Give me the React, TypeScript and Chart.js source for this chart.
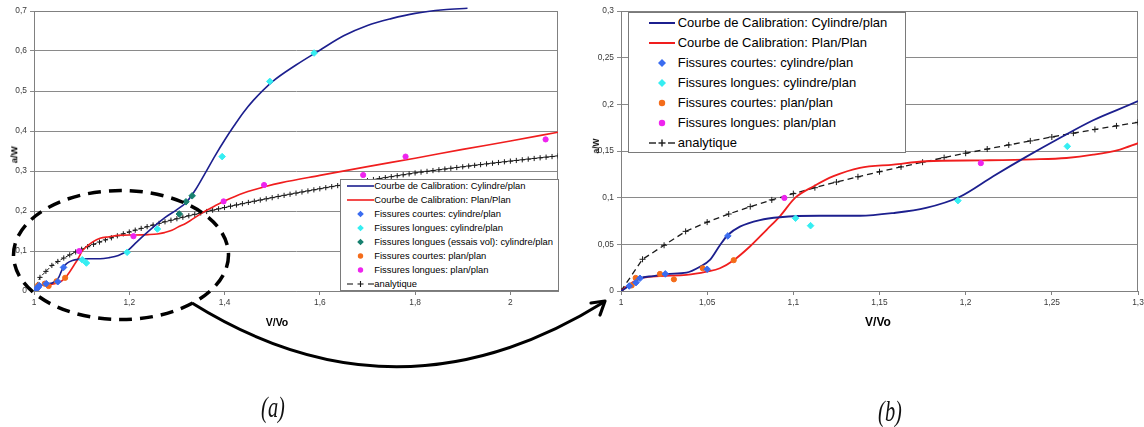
import React, { useEffect, useRef } from "react";
import { Chart, registerables } from "chart.js";

Chart.register(...registerables);

// ---------- Data (V/Vo, a/W) ----------
// Courbe de Calibration: Cylindre/plan
const calibCylV = [1.0, 1.0072, 1.011, 1.0187, 1.0265, 1.038, 1.0458, 1.0516, 1.0574, 1.062, 1.069, 1.0806, 1.0922, 1.115, 1.1386, 1.158, 1.177, 1.1966, 1.216, 1.2353, 1.2546, 1.274, 1.3, 1.32, 1.34, 1.36, 1.38, 1.4, 1.42, 1.44, 1.46, 1.5, 1.55, 1.6, 1.65, 1.7, 1.75, 1.8, 1.86, 1.91];
const calibCylA = [0.0, 0.0083, 0.0136, 0.016, 0.0183, 0.0197, 0.026, 0.0333, 0.049, 0.06, 0.069, 0.076, 0.079, 0.0806, 0.0806, 0.0835, 0.089, 0.101, 0.123, 0.144, 0.164, 0.183, 0.2035, 0.222, 0.255, 0.296, 0.338, 0.377, 0.413, 0.447, 0.476, 0.523, 0.565, 0.602, 0.638, 0.664, 0.681, 0.694, 0.703, 0.707];

// Courbe de Calibration: Plan/Plan
const calibPlanV = [1.0, 1.0035, 1.0072, 1.013, 1.0226, 1.038, 1.0497, 1.0574, 1.0654, 1.0748, 1.0845, 1.0922, 1.101, 1.1116, 1.1233, 1.1386, 1.158, 1.177, 1.21, 1.239, 1.2585, 1.274, 1.2895, 1.301, 1.32, 1.354, 1.38, 1.4, 1.44, 1.488, 1.52, 1.6, 1.7, 1.8, 1.9, 2.0, 2.1];
const calibPlanA = [0.0, 0.005, 0.01, 0.0143, 0.016, 0.0172, 0.0208, 0.0244, 0.033, 0.0477, 0.0656, 0.08, 0.0997, 0.112, 0.123, 0.132, 0.1355, 0.139, 0.14, 0.141, 0.1425, 0.146, 0.1516, 0.159, 0.17, 0.196, 0.213, 0.225, 0.245, 0.262, 0.271, 0.289, 0.311, 0.332, 0.354, 0.375, 0.397];

// Fissures courtes: cylindre/plan
const courtesCylV = [1.0048, 1.0087, 1.011, 1.0257, 1.05, 1.062];
const courtesCylA = [0.0054, 0.009, 0.0136, 0.0183, 0.0233, 0.059];
// Fissures longues: cylindre/plan
const longuesCylV = [1.1013, 1.11, 1.1955, 1.259, 1.395, 1.495, 1.588];
const longuesCylA = [0.078, 0.07, 0.0968, 0.155, 0.336, 0.524, 0.595];
// Fissures longues (essais vol): cylindre/plan
const volCylV = [1.305, 1.319, 1.332];
const volCylA = [0.1925, 0.223, 0.238];
// Fissures courtes: plan/plan
const courtesPlanV = [1.0062, 1.0085, 1.0226, 1.0307, 1.0474, 1.0654];
const courtesPlanA = [0.006, 0.014, 0.0183, 0.0125, 0.0244, 0.033];
// Fissures longues: plan/plan
const longuesPlanV = [1.0948, 1.2088, 1.398, 1.483, 1.691, 1.78, 2.074];
const longuesPlanA = [0.0997, 0.137, 0.224, 0.265, 0.29, 0.336, 0.379];

// analytique
const analytV = [1, 1.0125, 1.025, 1.0375, 1.05, 1.0625, 1.075, 1.0875, 1.1, 1.1125, 1.125, 1.1375, 1.15, 1.1625, 1.175, 1.1875, 1.2, 1.2125, 1.225, 1.2375, 1.25, 1.2625, 1.275, 1.2875, 1.3, 1.3125, 1.325, 1.3375, 1.35, 1.3625, 1.375, 1.3875, 1.4, 1.4125, 1.425, 1.4375, 1.45, 1.4625, 1.475, 1.4875, 1.5, 1.5125, 1.525, 1.5375, 1.55, 1.5625, 1.575, 1.5875, 1.6, 1.6125, 1.625, 1.6375, 1.65, 1.6625, 1.675, 1.6875, 1.7, 1.7125, 1.725, 1.7375, 1.75, 1.7625, 1.775, 1.7875, 1.8, 1.8125, 1.825, 1.8375, 1.85, 1.8625, 1.875, 1.8875, 1.9, 1.9125, 1.925, 1.9375, 1.95, 1.9625, 1.975, 1.9875, 2.0, 2.0125, 2.025, 2.0375, 2.05, 2.0625, 2.075, 2.0875, 2.1];
const analytA = [0, 0.034, 0.049, 0.0639, 0.0738, 0.0825, 0.0904, 0.0976, 0.1043, 0.1107, 0.1167, 0.1224, 0.1278, 0.133, 0.138, 0.1429, 0.1476, 0.1521, 0.1565, 0.1608, 0.165, 0.1691, 0.1731, 0.1769, 0.1807, 0.1845, 0.1881, 0.1917, 0.1952, 0.1987, 0.2021, 0.2054, 0.2087, 0.212, 0.2151, 0.2183, 0.2214, 0.2244, 0.2274, 0.2304, 0.2333, 0.2362, 0.2391, 0.2419, 0.2447, 0.2475, 0.2502, 0.2529, 0.2556, 0.2583, 0.2609, 0.2635, 0.266, 0.2686, 0.2711, 0.2736, 0.2761, 0.2786, 0.281, 0.2834, 0.2858, 0.2882, 0.2905, 0.2928, 0.2952, 0.2972, 0.2991, 0.3011, 0.3031, 0.3049, 0.3068, 0.3087, 0.3105, 0.3124, 0.3142, 0.3159, 0.3178, 0.3195, 0.3212, 0.323, 0.3247, 0.3263, 0.328, 0.3297, 0.3313, 0.333, 0.3346, 0.3361, 0.3377];

// axis ranges / ticks
const axisA = { xMin: 1, xMax: 2.1, xStep: 0.2, yMin: 0, yMax: 0.7, yStep: 0.1 };
const axisB = { xMin: 1, xMax: 1.3, xStep: 0.05, yMin: 0, yMax: 0.3, yStep: 0.05 };

// ---------- styling ----------
const NAVY = "#1c1f8e";
const RED = "#f01e1e";
const BLUE = "#3a6cf0";
const CYAN = "#35eef2";
const TEAL = "#17806f";
const ORANGE = "#f46c1a";
const MAGENTA = "#ee24ee";
const FONT = "'Liberation Sans', Arial, sans-serif";

const L_CYL = "Courbe de Calibration: Cylindre/plan";
const L_PLAN = "Courbe de Calibration: Plan/Plan";
const L_CC = "Fissures courtes: cylindre/plan";
const L_LC = "Fissures longues: cylindre/plan";
const L_VOL = "Fissures longues (essais vol): cylindre/plan";
const L_CP = "Fissures courtes: plan/plan";
const L_LP = "Fissures longues: plan/plan";
const L_AN = "analytique";

const toPts = (xs: number[], ys: number[]) => xs.map((x, i) => ({ x, y: ys[i] }));
const fmt = (v: number) => String(Math.round(v * 1000) / 1000).replace(".", ",");

const framePlugin = {
  id: "frame",
  beforeDatasetsDraw(chart: any) {
    const { ctx, chartArea: a } = chart;
    ctx.save();
    ctx.strokeStyle = "#808080";
    ctx.lineWidth = 1;
    ctx.beginPath();
    const l = Math.round(a.left) + 0.5;
    const t = Math.round(a.top) + 0.5;
    const r = Math.round(a.right) - 0.5;
    const b = Math.round(a.bottom) + 0.5;
    ctx.moveTo(l, t);
    ctx.lineTo(r, t);
    ctx.lineTo(r, b);
    ctx.stroke();
    ctx.restore();
  },
};

function markerSet(label: string, xs: number[], ys: number[], color: string, style: string, r: number) {
  return {
    label,
    data: toPts(xs, ys),
    showLine: false,
    pointStyle: style,
    pointRadius: r,
    pointBackgroundColor: color,
    pointBorderColor: color,
    pointBorderWidth: 1,
    order: 0,
  };
}

function buildDatasets(big: boolean) {
  const lw = big ? 1.8 : 1.6;
  const ds: any[] = [
    markerSet(L_CC, courtesCylV, courtesCylA, BLUE, "rectRot", 3.3),
    markerSet(L_LC, longuesCylV, longuesCylA, CYAN, "rectRot", 3.3),
  ];
  if (!big) ds.push(markerSet(L_VOL, volCylV, volCylA, TEAL, "rectRot", 3.3));
  ds.push(markerSet(L_CP, courtesPlanV, courtesPlanA, ORANGE, "circle", 2.6));
  ds.push(markerSet(L_LP, longuesPlanV, longuesPlanA, MAGENTA, "circle", 2.6));
  ds.push({
    label: L_CYL,
    data: toPts(calibCylV, calibCylA),
    showLine: true,
    borderColor: NAVY,
    borderWidth: lw,
    pointRadius: 0,
    cubicInterpolationMode: "monotone",
    clip: big ? 0 : { left: 0, top: 4, right: 0, bottom: 0 },
    order: 1,
  });
  ds.push({
    label: L_PLAN,
    data: toPts(calibPlanV, calibPlanA),
    showLine: true,
    borderColor: RED,
    borderWidth: lw,
    pointRadius: 0,
    cubicInterpolationMode: "monotone",
    order: 1,
  });
  ds.push({
    label: L_AN,
    data: toPts(analytV, analytA),
    showLine: true,
    borderColor: "#1a1a1a",
    borderWidth: big ? 1.3 : 1,
    borderDash: big ? [6, 4] : [4, 2],
    pointStyle: "cross",
    pointRadius: big ? 3 : 2.6,
    pointBorderColor: "#1a1a1a",
    pointBorderWidth: 1,
    pointBackgroundColor: "#1a1a1a",
    order: 2,
  });
  return ds;
}

function buildConfig(big: boolean, ax: typeof axisA, yWidth: number): any {
  const tickFont = { family: FONT, size: 8.4 };
  return {
    type: "scatter",
    data: { datasets: buildDatasets(big) },
    options: {
      animation: false,
      responsive: false,
      devicePixelRatio: 1,
      layout: { padding: { left: 0, top: 11, right: 22, bottom: 0 } },
      plugins: { legend: { display: false }, tooltip: { enabled: false } },
      scales: {
        x: {
          type: "linear",
          min: ax.xMin,
          max: ax.xMax,
          afterFit: (s: any) => {
            s.height = 49;
          },
          ticks: {
            stepSize: ax.xStep,
            includeBounds: false,
            autoSkip: false,
            maxRotation: 0,
            font: tickFont,
            color: "#3a3a3a",
            padding: 3,
            callback: (v: any) => fmt(Number(v)),
          },
          grid: { drawOnChartArea: false, color: "#808080", tickLength: 4 },
          border: { color: "#808080" },
        },
        y: {
          type: "linear",
          min: ax.yMin,
          max: ax.yMax,
          afterFit: (s: any) => {
            s.width = yWidth;
          },
          ticks: {
            stepSize: ax.yStep,
            includeBounds: false,
            font: tickFont,
            color: "#3a3a3a",
            padding: 3,
            callback: (v: any) => fmt(Number(v)),
          },
          grid: { color: "#8a8a8a", tickLength: 4 },
          border: { color: "#808080" },
        },
      },
    },
    plugins: [framePlugin],
  };
}

type Row = { label: string; kind: "line" | "diamond" | "circle" | "analytic"; color: string };

const rowsA: Row[] = [
  { label: L_CYL, kind: "line", color: NAVY },
  { label: L_PLAN, kind: "line", color: RED },
  { label: L_CC, kind: "diamond", color: BLUE },
  { label: L_LC, kind: "diamond", color: CYAN },
  { label: L_VOL, kind: "diamond", color: TEAL },
  { label: L_CP, kind: "circle", color: ORANGE },
  { label: L_LP, kind: "circle", color: MAGENTA },
  { label: L_AN, kind: "analytic", color: "#1a1a1a" },
];
const rowsB: Row[] = rowsA.filter((r) => r.label !== L_VOL);

function Sample({ row, w, h, big }: { row: Row; w: number; h: number; big: boolean }) {
  const cy = h / 2;
  const cx = w / 2;
  let content: any = null;
  if (row.kind === "line") {
    content = <line x1={0} y1={cy} x2={w} y2={cy} stroke={row.color} strokeWidth={big ? 2 : 1.6} />;
  } else if (row.kind === "diamond") {
    const r = big ? 4 : 3.3;
    content = (
      <polygon
        points={`${cx - r},${cy} ${cx},${cy - r} ${cx + r},${cy} ${cx},${cy + r}`}
        fill={row.color}
      />
    );
  } else if (row.kind === "circle") {
    content = <circle cx={cx} cy={cy} r={big ? 3.2 : 2.7} fill={row.color} />;
  } else {
    const d = big ? 7 : 6;
    const c = big ? 3.5 : 3;
    content = (
      <g stroke={row.color} strokeWidth={big ? 1.4 : 1.1}>
        <line x1={0} y1={cy} x2={d} y2={cy} />
        <line x1={w - d} y1={cy} x2={w} y2={cy} />
        <line x1={cx - c} y1={cy} x2={cx + c} y2={cy} />
        <line x1={cx} y1={cy - c} x2={cx} y2={cy + c} />
      </g>
    );
  }
  return (
    <svg width={w} height={h} style={{ position: "absolute", left: 0, top: 0, overflow: "visible" }}>
      {content}
    </svg>
  );
}

function Legend(props: {
  rows: Row[];
  left: number;
  top: number;
  width: number;
  height: number;
  rowH: number;
  padTop: number;
  sampleLeft: number;
  sampleW: number;
  textLeft: number;
  fontSize: number;
  big: boolean;
}) {
  const p = props;
  return (
    <div
      style={{
        position: "absolute",
        left: p.left,
        top: p.top,
        width: p.width,
        height: p.height,
        boxSizing: "border-box",
        border: "1px solid #7a7a7a",
        background: "#fff",
      }}
    >
      {p.rows.map((r, i) => (
        <div key={r.label} style={{ position: "absolute", left: 0, top: p.padTop + i * p.rowH, height: p.rowH, width: "100%" }}>
          <div style={{ position: "absolute", left: p.sampleLeft, top: 0, width: p.sampleW, height: p.rowH }}>
            <Sample row={r} w={p.sampleW} h={p.rowH} big={p.big} />
          </div>
          <span
            style={{
              position: "absolute",
              left: p.textLeft,
              top: 0,
              lineHeight: `${p.rowH}px`,
              fontSize: p.fontSize,
              fontFamily: FONT,
              color: "#000",
              whiteSpace: "nowrap",
            }}
          >
            {r.label}
          </span>
        </div>
      ))}
    </div>
  );
}

function Label(props: { text: string; cx: number; cy: number; size: number; rotate?: boolean }) {
  const w = 80;
  const lh = props.size * 1.2;
  return (
    <div
      style={{
        position: "absolute",
        left: props.cx - w / 2,
        top: props.cy - lh / 2,
        width: w,
        height: lh,
        lineHeight: `${lh}px`,
        textAlign: "center",
        fontFamily: FONT,
        fontWeight: "bold",
        fontSize: props.size,
        color: "#000",
        transform: props.rotate ? "rotate(-90deg)" : undefined,
        transformOrigin: "50% 50%",
      }}
    >
      {props.text}
    </div>
  );
}

function Caption(props: { text: string; cx: number; top: number }) {
  return (
    <div
      style={{
        position: "absolute",
        left: props.cx - 40,
        top: props.top,
        width: 80,
        textAlign: "center",
        fontFamily: "'Liberation Serif', 'DejaVu Serif', serif",
        fontStyle: "italic",
        fontSize: 30,
        lineHeight: "34px",
        color: "#111",
        transform: "scaleX(0.68)",
      }}
    >
      {props.text}
    </div>
  );
}

export default function App() {
  const refA = useRef<HTMLCanvasElement>(null);
  const refB = useRef<HTMLCanvasElement>(null);

  useEffect(() => {
    const a = new Chart(refA.current as HTMLCanvasElement, buildConfig(false, axisA, 34));
    const b = new Chart(refB.current as HTMLCanvasElement, buildConfig(true, axisB, 36));
    return () => {
      a.destroy();
      b.destroy();
    };
  }, []);

  return (
    <div
      style={{
        position: "absolute",
        left: 0,
        top: 0,
        width: 1144,
        height: 427,
        overflow: "hidden",
        background: "#fff",
      }}
    >
      <canvas ref={refA} width={580} height={340} style={{ position: "absolute", left: 0, top: 0 }} />
      <canvas ref={refB} width={575} height={340} style={{ position: "absolute", left: 585, top: 0 }} />

      <Label text="a/W" cx={13.5} cy={155} size={9.5} rotate />
      <Label text="V/Vo" cx={277} cy={322} size={10.5} />
      <Label text="a/W" cx={596} cy={146} size={8.5} rotate />
      <Label text="V/Vo" cx={878} cy={322} size={12} />

      <Legend
        rows={rowsA}
        left={340}
        top={179}
        width={219}
        height={112}
        rowH={14}
        padTop={-1}
        sampleLeft={5.7}
        sampleW={27}
        textLeft={33.3}
        fontSize={9.4}
        big={false}
      />
      <Legend
        rows={rowsB}
        left={628}
        top={12}
        width={278}
        height={141}
        rowH={20}
        padTop={0}
        sampleLeft={20.3}
        sampleW={26}
        textLeft={48.7}
        fontSize={13}
        big={true}
      />

      <svg width={1144} height={427} style={{ position: "absolute", left: 0, top: 0, pointerEvents: "none" }}>
        <ellipse cx={121} cy={255} rx={107.5} ry={64.5} fill="none" stroke="#000" strokeWidth={3.5} strokeDasharray="13 8" />
        <path d="M192,303 Q397,431 604,302" fill="none" stroke="#000" strokeWidth={3} />
        <path d="M591,303 L605,301 L600,315" fill="none" stroke="#000" strokeWidth={3.2} strokeLinecap="round" strokeLinejoin="round" />
      </svg>

      <Caption text="(a)" cx={273} top={390} />
      <Caption text="(b)" cx={890} top={394} />
    </div>
  );
}
